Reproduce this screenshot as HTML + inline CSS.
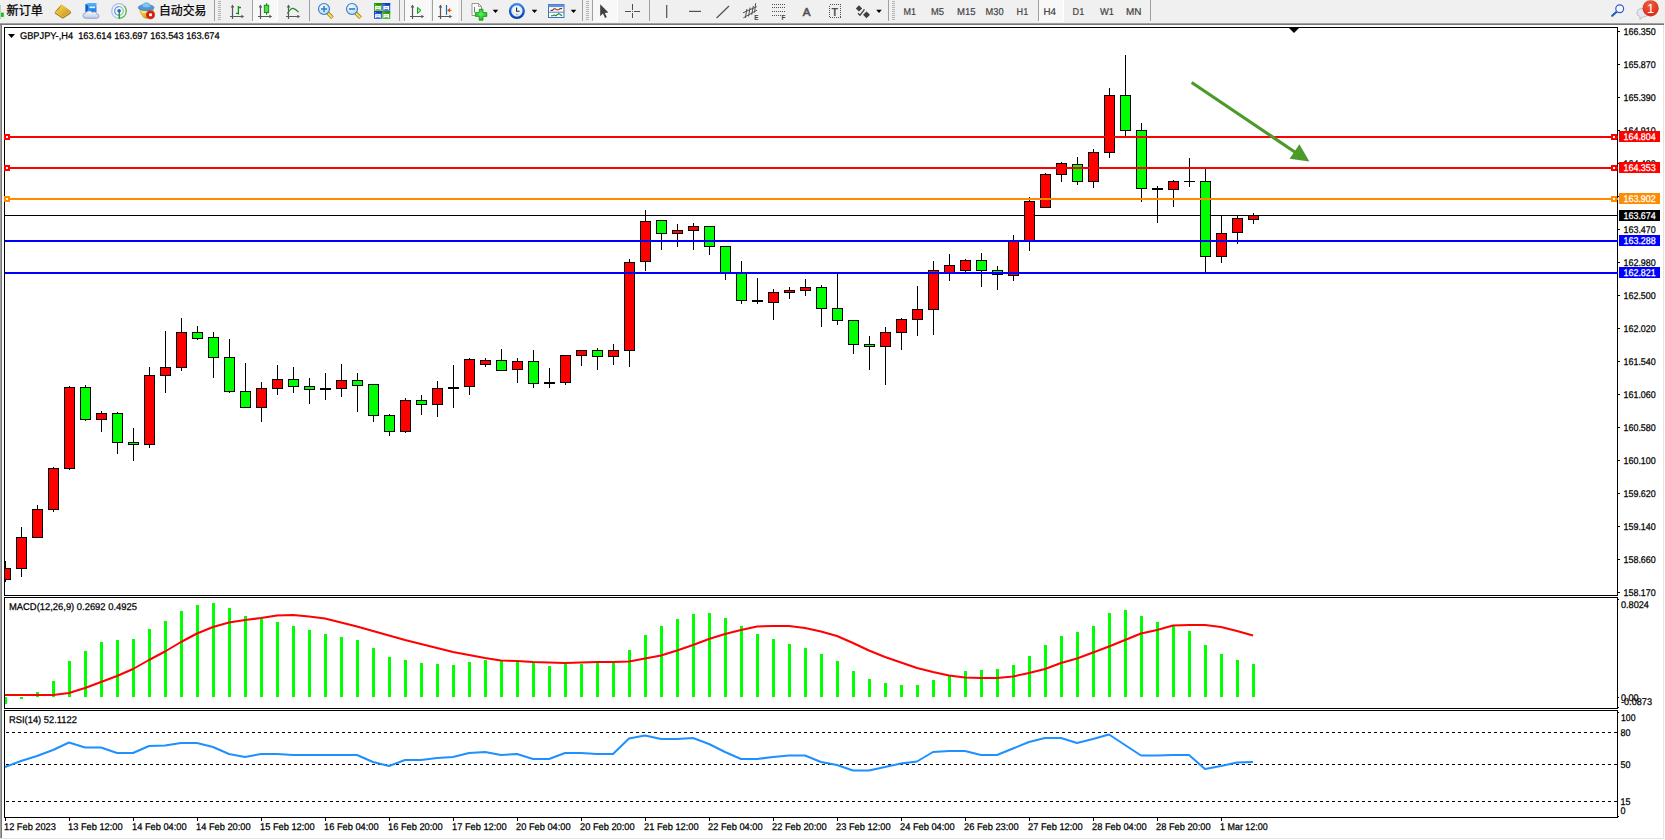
<!DOCTYPE html>
<html lang="zh-CN"><head><meta charset="utf-8"><title>GBPJPY-,H4</title>
<style>
html,body{margin:0;padding:0;background:#f0f0f0;overflow:hidden}
body{width:1665px;height:840px;font-family:"Liberation Sans", "Noto Sans CJK SC", sans-serif}
svg{display:block;position:absolute;left:0;top:0}
text{font-family:"Liberation Sans", "Noto Sans CJK SC", sans-serif;white-space:pre}
</style></head><body>
<svg width="1665" height="840" viewBox="0 0 1665 840"><rect x="0" y="0" width="1665" height="840" fill="#f0f0f0"/>
<rect x="2" y="25" width="1662" height="813" fill="#fff"/>
<rect x="0" y="23" width="1664" height="1" fill="#a0a0a0"/>
<rect x="0" y="24" width="1664" height="1" fill="#787878"/>
<rect x="0" y="25" width="1" height="813" fill="#a0a0a0"/>
<rect x="1" y="25" width="1" height="813" fill="#787878"/>
<rect x="1663" y="25" width="1" height="814" fill="#e3e3e3"/>
<rect x="0" y="838" width="1664" height="1" fill="#e3e3e3"/>
<rect x="1664" y="25" width="1" height="815" fill="#fff"/>
<rect x="0" y="839" width="1665" height="1" fill="#fff"/>
<g fill="none" stroke="#000" stroke-width="1" shape-rendering="crispEdges">
<path d="M4.5 27.5H1617.5V595.5H4.5Z"/>
<path d="M4.5 597.5H1617.5V708.5H4.5Z"/>
<path d="M4.5 710.5H1617.5V817.5H4.5Z"/>
</g>
<defs><clipPath id="cm"><rect x="5" y="28" width="1612" height="567"/></clipPath></defs>
<g clip-path="url(#cm)" shape-rendering="crispEdges">
<rect x="5" y="215" width="1612" height="1" fill="#000"/>
<rect x="5" y="561" width="1" height="21" fill="#000"/>
<rect x="0" y="568" width="11" height="12" fill="#000"/>
<rect x="1" y="569" width="9" height="10" fill="#ff0000"/>
<rect x="21" y="527" width="1" height="50" fill="#000"/>
<rect x="16" y="537" width="11" height="32" fill="#000"/>
<rect x="17" y="538" width="9" height="30" fill="#ff0000"/>
<rect x="37" y="505" width="1" height="32" fill="#000"/>
<rect x="32" y="509" width="11" height="29" fill="#000"/>
<rect x="33" y="510" width="9" height="27" fill="#ff0000"/>
<rect x="53" y="467" width="1" height="45" fill="#000"/>
<rect x="48" y="468" width="11" height="42" fill="#000"/>
<rect x="49" y="469" width="9" height="40" fill="#ff0000"/>
<rect x="69" y="386" width="1" height="84" fill="#000"/>
<rect x="64" y="387" width="11" height="82" fill="#000"/>
<rect x="65" y="388" width="9" height="80" fill="#ff0000"/>
<rect x="85" y="385" width="1" height="36" fill="#000"/>
<rect x="80" y="387" width="11" height="33" fill="#000"/>
<rect x="81" y="388" width="9" height="31" fill="#00ff00"/>
<rect x="101" y="411" width="1" height="21" fill="#000"/>
<rect x="96" y="413" width="11" height="7" fill="#000"/>
<rect x="97" y="414" width="9" height="5" fill="#ff0000"/>
<rect x="117" y="412" width="1" height="42" fill="#000"/>
<rect x="112" y="413" width="11" height="30" fill="#000"/>
<rect x="113" y="414" width="9" height="28" fill="#00ff00"/>
<rect x="133" y="428" width="1" height="33" fill="#000"/>
<rect x="128" y="442" width="11" height="3" fill="#000"/>
<rect x="129" y="443" width="9" height="1" fill="#00ff00"/>
<rect x="149" y="367" width="1" height="81" fill="#000"/>
<rect x="144" y="375" width="11" height="70" fill="#000"/>
<rect x="145" y="376" width="9" height="68" fill="#ff0000"/>
<rect x="165" y="331" width="1" height="62" fill="#000"/>
<rect x="160" y="367" width="11" height="9" fill="#000"/>
<rect x="161" y="368" width="9" height="7" fill="#ff0000"/>
<rect x="181" y="318" width="1" height="53" fill="#000"/>
<rect x="176" y="332" width="11" height="36" fill="#000"/>
<rect x="177" y="333" width="9" height="34" fill="#ff0000"/>
<rect x="197" y="326" width="1" height="14" fill="#000"/>
<rect x="192" y="332" width="11" height="7" fill="#000"/>
<rect x="193" y="333" width="9" height="5" fill="#00ff00"/>
<rect x="213" y="332" width="1" height="46" fill="#000"/>
<rect x="208" y="337" width="11" height="21" fill="#000"/>
<rect x="209" y="338" width="9" height="19" fill="#00ff00"/>
<rect x="229" y="339" width="1" height="54" fill="#000"/>
<rect x="224" y="357" width="11" height="35" fill="#000"/>
<rect x="225" y="358" width="9" height="33" fill="#00ff00"/>
<rect x="245" y="363" width="1" height="44" fill="#000"/>
<rect x="240" y="391" width="11" height="17" fill="#000"/>
<rect x="241" y="392" width="9" height="15" fill="#00ff00"/>
<rect x="261" y="382" width="1" height="40" fill="#000"/>
<rect x="256" y="388" width="11" height="20" fill="#000"/>
<rect x="257" y="389" width="9" height="18" fill="#ff0000"/>
<rect x="277" y="365" width="1" height="30" fill="#000"/>
<rect x="272" y="379" width="11" height="10" fill="#000"/>
<rect x="273" y="380" width="9" height="8" fill="#ff0000"/>
<rect x="293" y="367" width="1" height="26" fill="#000"/>
<rect x="288" y="379" width="11" height="8" fill="#000"/>
<rect x="289" y="380" width="9" height="6" fill="#00ff00"/>
<rect x="309" y="378" width="1" height="26" fill="#000"/>
<rect x="304" y="386" width="11" height="4" fill="#000"/>
<rect x="305" y="387" width="9" height="2" fill="#00ff00"/>
<rect x="325" y="373" width="1" height="27" fill="#000"/>
<rect x="320" y="388" width="11" height="2" fill="#000"/>
<rect x="341" y="364" width="1" height="33" fill="#000"/>
<rect x="336" y="380" width="11" height="9" fill="#000"/>
<rect x="337" y="381" width="9" height="7" fill="#ff0000"/>
<rect x="357" y="373" width="1" height="39" fill="#000"/>
<rect x="352" y="380" width="11" height="6" fill="#000"/>
<rect x="353" y="381" width="9" height="4" fill="#00ff00"/>
<rect x="373" y="384" width="1" height="38" fill="#000"/>
<rect x="368" y="384" width="11" height="32" fill="#000"/>
<rect x="369" y="385" width="9" height="30" fill="#00ff00"/>
<rect x="389" y="414" width="1" height="22" fill="#000"/>
<rect x="384" y="415" width="11" height="17" fill="#000"/>
<rect x="385" y="416" width="9" height="15" fill="#00ff00"/>
<rect x="405" y="398" width="1" height="35" fill="#000"/>
<rect x="400" y="400" width="11" height="32" fill="#000"/>
<rect x="401" y="401" width="9" height="30" fill="#ff0000"/>
<rect x="421" y="395" width="1" height="20" fill="#000"/>
<rect x="416" y="400" width="11" height="5" fill="#000"/>
<rect x="417" y="401" width="9" height="3" fill="#00ff00"/>
<rect x="437" y="381" width="1" height="36" fill="#000"/>
<rect x="432" y="388" width="11" height="17" fill="#000"/>
<rect x="433" y="389" width="9" height="15" fill="#ff0000"/>
<rect x="453" y="365" width="1" height="43" fill="#000"/>
<rect x="448" y="387" width="11" height="2" fill="#000"/>
<rect x="469" y="358" width="1" height="37" fill="#000"/>
<rect x="464" y="359" width="11" height="28" fill="#000"/>
<rect x="465" y="360" width="9" height="26" fill="#ff0000"/>
<rect x="485" y="358" width="1" height="9" fill="#000"/>
<rect x="480" y="360" width="11" height="5" fill="#000"/>
<rect x="481" y="361" width="9" height="3" fill="#ff0000"/>
<rect x="501" y="349" width="1" height="21" fill="#000"/>
<rect x="496" y="360" width="11" height="11" fill="#000"/>
<rect x="497" y="361" width="9" height="9" fill="#00ff00"/>
<rect x="517" y="358" width="1" height="25" fill="#000"/>
<rect x="512" y="361" width="11" height="9" fill="#000"/>
<rect x="513" y="362" width="9" height="7" fill="#ff0000"/>
<rect x="533" y="350" width="1" height="38" fill="#000"/>
<rect x="528" y="361" width="11" height="23" fill="#000"/>
<rect x="529" y="362" width="9" height="21" fill="#00ff00"/>
<rect x="549" y="368" width="1" height="20" fill="#000"/>
<rect x="544" y="382" width="11" height="2" fill="#000"/>
<rect x="565" y="355" width="1" height="30" fill="#000"/>
<rect x="560" y="355" width="11" height="28" fill="#000"/>
<rect x="561" y="356" width="9" height="26" fill="#ff0000"/>
<rect x="581" y="350" width="1" height="16" fill="#000"/>
<rect x="576" y="350" width="11" height="6" fill="#000"/>
<rect x="577" y="351" width="9" height="4" fill="#ff0000"/>
<rect x="597" y="348" width="1" height="22" fill="#000"/>
<rect x="592" y="350" width="11" height="7" fill="#000"/>
<rect x="593" y="351" width="9" height="5" fill="#00ff00"/>
<rect x="613" y="344" width="1" height="21" fill="#000"/>
<rect x="608" y="350" width="11" height="7" fill="#000"/>
<rect x="609" y="351" width="9" height="5" fill="#ff0000"/>
<rect x="629" y="259" width="1" height="108" fill="#000"/>
<rect x="624" y="262" width="11" height="89" fill="#000"/>
<rect x="625" y="263" width="9" height="87" fill="#ff0000"/>
<rect x="645" y="210" width="1" height="61" fill="#000"/>
<rect x="640" y="221" width="11" height="41" fill="#000"/>
<rect x="641" y="222" width="9" height="39" fill="#ff0000"/>
<rect x="661" y="220" width="1" height="30" fill="#000"/>
<rect x="656" y="220" width="11" height="14" fill="#000"/>
<rect x="657" y="221" width="9" height="12" fill="#00ff00"/>
<rect x="677" y="224" width="1" height="23" fill="#000"/>
<rect x="672" y="230" width="11" height="4" fill="#000"/>
<rect x="673" y="231" width="9" height="2" fill="#ff0000"/>
<rect x="693" y="223" width="1" height="27" fill="#000"/>
<rect x="688" y="226" width="11" height="5" fill="#000"/>
<rect x="689" y="227" width="9" height="3" fill="#ff0000"/>
<rect x="709" y="226" width="1" height="29" fill="#000"/>
<rect x="704" y="226" width="11" height="21" fill="#000"/>
<rect x="705" y="227" width="9" height="19" fill="#00ff00"/>
<rect x="725" y="246" width="1" height="34" fill="#000"/>
<rect x="720" y="246" width="11" height="27" fill="#000"/>
<rect x="721" y="247" width="9" height="25" fill="#00ff00"/>
<rect x="741" y="261" width="1" height="43" fill="#000"/>
<rect x="736" y="273" width="11" height="28" fill="#000"/>
<rect x="737" y="274" width="9" height="26" fill="#00ff00"/>
<rect x="757" y="278" width="1" height="26" fill="#000"/>
<rect x="752" y="300" width="11" height="2" fill="#000"/>
<rect x="773" y="289" width="1" height="31" fill="#000"/>
<rect x="768" y="292" width="11" height="11" fill="#000"/>
<rect x="769" y="293" width="9" height="9" fill="#ff0000"/>
<rect x="789" y="287" width="1" height="12" fill="#000"/>
<rect x="784" y="290" width="11" height="3" fill="#000"/>
<rect x="785" y="291" width="9" height="1" fill="#ff0000"/>
<rect x="805" y="279" width="1" height="17" fill="#000"/>
<rect x="800" y="287" width="11" height="4" fill="#000"/>
<rect x="801" y="288" width="9" height="2" fill="#ff0000"/>
<rect x="821" y="285" width="1" height="42" fill="#000"/>
<rect x="816" y="287" width="11" height="22" fill="#000"/>
<rect x="817" y="288" width="9" height="20" fill="#00ff00"/>
<rect x="837" y="274" width="1" height="51" fill="#000"/>
<rect x="832" y="308" width="11" height="13" fill="#000"/>
<rect x="833" y="309" width="9" height="11" fill="#00ff00"/>
<rect x="853" y="320" width="1" height="34" fill="#000"/>
<rect x="848" y="320" width="11" height="25" fill="#000"/>
<rect x="849" y="321" width="9" height="23" fill="#00ff00"/>
<rect x="869" y="336" width="1" height="34" fill="#000"/>
<rect x="864" y="344" width="11" height="3" fill="#000"/>
<rect x="865" y="345" width="9" height="1" fill="#00ff00"/>
<rect x="885" y="327" width="1" height="58" fill="#000"/>
<rect x="880" y="332" width="11" height="15" fill="#000"/>
<rect x="881" y="333" width="9" height="13" fill="#ff0000"/>
<rect x="901" y="318" width="1" height="32" fill="#000"/>
<rect x="896" y="319" width="11" height="14" fill="#000"/>
<rect x="897" y="320" width="9" height="12" fill="#ff0000"/>
<rect x="917" y="286" width="1" height="50" fill="#000"/>
<rect x="912" y="309" width="11" height="11" fill="#000"/>
<rect x="913" y="310" width="9" height="9" fill="#ff0000"/>
<rect x="933" y="261" width="1" height="74" fill="#000"/>
<rect x="928" y="270" width="11" height="40" fill="#000"/>
<rect x="929" y="271" width="9" height="38" fill="#ff0000"/>
<rect x="949" y="254" width="1" height="27" fill="#000"/>
<rect x="944" y="265" width="11" height="8" fill="#000"/>
<rect x="945" y="266" width="9" height="6" fill="#ff0000"/>
<rect x="965" y="259" width="1" height="14" fill="#000"/>
<rect x="960" y="260" width="11" height="11" fill="#000"/>
<rect x="961" y="261" width="9" height="9" fill="#ff0000"/>
<rect x="981" y="253" width="1" height="34" fill="#000"/>
<rect x="976" y="260" width="11" height="11" fill="#000"/>
<rect x="977" y="261" width="9" height="9" fill="#00ff00"/>
<rect x="997" y="266" width="1" height="24" fill="#000"/>
<rect x="992" y="270" width="11" height="5" fill="#000"/>
<rect x="993" y="271" width="9" height="3" fill="#00ff00"/>
<rect x="1013" y="235" width="1" height="46" fill="#000"/>
<rect x="1008" y="241" width="11" height="35" fill="#000"/>
<rect x="1009" y="242" width="9" height="33" fill="#ff0000"/>
<rect x="1029" y="197" width="1" height="54" fill="#000"/>
<rect x="1024" y="201" width="11" height="41" fill="#000"/>
<rect x="1025" y="202" width="9" height="39" fill="#ff0000"/>
<rect x="1045" y="173" width="1" height="35" fill="#000"/>
<rect x="1040" y="174" width="11" height="34" fill="#000"/>
<rect x="1041" y="175" width="9" height="32" fill="#ff0000"/>
<rect x="1061" y="162" width="1" height="20" fill="#000"/>
<rect x="1056" y="163" width="11" height="12" fill="#000"/>
<rect x="1057" y="164" width="9" height="10" fill="#ff0000"/>
<rect x="1077" y="157" width="1" height="28" fill="#000"/>
<rect x="1072" y="164" width="11" height="18" fill="#000"/>
<rect x="1073" y="165" width="9" height="16" fill="#00ff00"/>
<rect x="1093" y="149" width="1" height="39" fill="#000"/>
<rect x="1088" y="152" width="11" height="30" fill="#000"/>
<rect x="1089" y="153" width="9" height="28" fill="#ff0000"/>
<rect x="1109" y="88" width="1" height="70" fill="#000"/>
<rect x="1104" y="95" width="11" height="58" fill="#000"/>
<rect x="1105" y="96" width="9" height="56" fill="#ff0000"/>
<rect x="1125" y="55" width="1" height="81" fill="#000"/>
<rect x="1120" y="95" width="11" height="36" fill="#000"/>
<rect x="1121" y="96" width="9" height="34" fill="#00ff00"/>
<rect x="1141" y="123" width="1" height="79" fill="#000"/>
<rect x="1136" y="130" width="11" height="59" fill="#000"/>
<rect x="1137" y="131" width="9" height="57" fill="#00ff00"/>
<rect x="1157" y="186" width="1" height="37" fill="#000"/>
<rect x="1152" y="188" width="11" height="2" fill="#000"/>
<rect x="1173" y="180" width="1" height="27" fill="#000"/>
<rect x="1168" y="181" width="11" height="9" fill="#000"/>
<rect x="1169" y="182" width="9" height="7" fill="#ff0000"/>
<rect x="1189" y="158" width="1" height="29" fill="#000"/>
<rect x="1184" y="181" width="11" height="1" fill="#000"/>
<rect x="1205" y="169" width="1" height="103" fill="#000"/>
<rect x="1200" y="181" width="11" height="76" fill="#000"/>
<rect x="1201" y="182" width="9" height="74" fill="#00ff00"/>
<rect x="1221" y="216" width="1" height="47" fill="#000"/>
<rect x="1216" y="233" width="11" height="24" fill="#000"/>
<rect x="1217" y="234" width="9" height="22" fill="#ff0000"/>
<rect x="1237" y="216" width="1" height="28" fill="#000"/>
<rect x="1232" y="218" width="11" height="15" fill="#000"/>
<rect x="1233" y="219" width="9" height="13" fill="#ff0000"/>
<rect x="1253" y="213" width="1" height="11" fill="#000"/>
<rect x="1248" y="215" width="11" height="5" fill="#000"/>
<rect x="1249" y="216" width="9" height="3" fill="#ff0000"/>
</g>
<g shape-rendering="crispEdges">
<rect x="5" y="136" width="1613" height="2" fill="#ff0000"/>
<rect x="4" y="134" width="6" height="6" fill="#ff0000"/>
<rect x="6" y="136" width="2" height="2" fill="#fff"/>
<rect x="1611" y="134" width="6" height="6" fill="#ff0000"/>
<rect x="1613" y="136" width="2" height="2" fill="#fff"/>
<rect x="5" y="167" width="1613" height="2" fill="#ff0000"/>
<rect x="4" y="165" width="6" height="6" fill="#ff0000"/>
<rect x="6" y="167" width="2" height="2" fill="#fff"/>
<rect x="1611" y="165" width="6" height="6" fill="#ff0000"/>
<rect x="1613" y="167" width="2" height="2" fill="#fff"/>
<rect x="5" y="198" width="1613" height="2" fill="#ff8c00"/>
<rect x="4" y="196" width="6" height="6" fill="#ff8c00"/>
<rect x="6" y="198" width="2" height="2" fill="#fff"/>
<rect x="1611" y="196" width="6" height="6" fill="#ff8c00"/>
<rect x="1613" y="198" width="2" height="2" fill="#fff"/>
<rect x="5" y="240" width="1613" height="2" fill="#0000ff"/>
<rect x="5" y="272" width="1613" height="2" fill="#0000ff"/>
</g>
<path d="M1191.7 82.5L1295.5 152.5" stroke="#4c9a2a" stroke-width="3.2" fill="none"/>
<path d="M1299.4 144.2L1309.4 161.5L1289.6 158.8Z" fill="#4c9a2a"/>
<path d="M1289 28H1299L1294 33Z" fill="#000"/>
<g font-family='"Liberation Sans", "Noto Sans CJK SC", sans-serif' font-size="9.8">
<g shape-rendering="crispEdges">
<rect x="1618" y="31" width="2" height="1" fill="#000"/>
<rect x="1618" y="64" width="2" height="1" fill="#000"/>
<rect x="1618" y="97" width="2" height="1" fill="#000"/>
<rect x="1618" y="130" width="2" height="1" fill="#000"/>
<rect x="1618" y="163" width="2" height="1" fill="#000"/>
<rect x="1618" y="196" width="2" height="1" fill="#000"/>
<rect x="1618" y="229" width="2" height="1" fill="#000"/>
<rect x="1618" y="262" width="2" height="1" fill="#000"/>
<rect x="1618" y="295" width="2" height="1" fill="#000"/>
<rect x="1618" y="328" width="2" height="1" fill="#000"/>
<rect x="1618" y="361" width="2" height="1" fill="#000"/>
<rect x="1618" y="394" width="2" height="1" fill="#000"/>
<rect x="1618" y="427" width="2" height="1" fill="#000"/>
<rect x="1618" y="460" width="2" height="1" fill="#000"/>
<rect x="1618" y="493" width="2" height="1" fill="#000"/>
<rect x="1618" y="526" width="2" height="1" fill="#000"/>
<rect x="1618" y="559" width="2" height="1" fill="#000"/>
<rect x="1618" y="592" width="2" height="1" fill="#000"/>
</g>
<text transform="translate(1623.5 35) rotate(0.03) scale(0.9118 1)" font-size="9.8" fill="#000" stroke="#000" stroke-width="0.25" >166.350</text>
<text transform="translate(1623.5 68) rotate(0.03) scale(0.9118 1)" font-size="9.8" fill="#000" stroke="#000" stroke-width="0.25" >165.870</text>
<text transform="translate(1623.5 101) rotate(0.03) scale(0.9118 1)" font-size="9.8" fill="#000" stroke="#000" stroke-width="0.25" >165.390</text>
<text transform="translate(1623.5 134) rotate(0.03) scale(0.9118 1)" font-size="9.8" fill="#000" stroke="#000" stroke-width="0.25" >164.910</text>
<text transform="translate(1623.5 167) rotate(0.03) scale(0.9118 1)" font-size="9.8" fill="#000" stroke="#000" stroke-width="0.25" >164.430</text>
<text transform="translate(1623.5 200) rotate(0.03) scale(0.9118 1)" font-size="9.8" fill="#000" stroke="#000" stroke-width="0.25" >163.950</text>
<text transform="translate(1623.5 233) rotate(0.03) scale(0.9118 1)" font-size="9.8" fill="#000" stroke="#000" stroke-width="0.25" >163.470</text>
<text transform="translate(1623.5 266) rotate(0.03) scale(0.9118 1)" font-size="9.8" fill="#000" stroke="#000" stroke-width="0.25" >162.980</text>
<text transform="translate(1623.5 299) rotate(0.03) scale(0.9118 1)" font-size="9.8" fill="#000" stroke="#000" stroke-width="0.25" >162.500</text>
<text transform="translate(1623.5 332) rotate(0.03) scale(0.9118 1)" font-size="9.8" fill="#000" stroke="#000" stroke-width="0.25" >162.020</text>
<text transform="translate(1623.5 365) rotate(0.03) scale(0.9118 1)" font-size="9.8" fill="#000" stroke="#000" stroke-width="0.25" >161.540</text>
<text transform="translate(1623.5 398) rotate(0.03) scale(0.9118 1)" font-size="9.8" fill="#000" stroke="#000" stroke-width="0.25" >161.060</text>
<text transform="translate(1623.5 431) rotate(0.03) scale(0.9118 1)" font-size="9.8" fill="#000" stroke="#000" stroke-width="0.25" >160.580</text>
<text transform="translate(1623.5 464) rotate(0.03) scale(0.9118 1)" font-size="9.8" fill="#000" stroke="#000" stroke-width="0.25" >160.100</text>
<text transform="translate(1623.5 497) rotate(0.03) scale(0.9118 1)" font-size="9.8" fill="#000" stroke="#000" stroke-width="0.25" >159.620</text>
<text transform="translate(1623.5 530) rotate(0.03) scale(0.9118 1)" font-size="9.8" fill="#000" stroke="#000" stroke-width="0.25" >159.140</text>
<text transform="translate(1623.5 563) rotate(0.03) scale(0.9118 1)" font-size="9.8" fill="#000" stroke="#000" stroke-width="0.25" >158.660</text>
<text transform="translate(1623.5 596) rotate(0.03) scale(0.9118 1)" font-size="9.8" fill="#000" stroke="#000" stroke-width="0.25" >158.170</text>
<g shape-rendering="crispEdges">
<rect x="1619" y="131" width="41" height="11" fill="#ff0000"/>
<rect x="1619" y="162" width="41" height="11" fill="#ff0000"/>
<rect x="1619" y="193" width="41" height="11" fill="#ff8c00"/>
<rect x="1619" y="210" width="41" height="11" fill="#000000"/>
<rect x="1619" y="235" width="41" height="11" fill="#0000ff"/>
<rect x="1619" y="267" width="41" height="11" fill="#0000ff"/>
</g>
<text transform="translate(1623.5 140) rotate(0.03) scale(0.9118 1)" font-size="9.8" fill="#fff" stroke="#fff" stroke-width="0.25" >164.804</text>
<text transform="translate(1623.5 171) rotate(0.03) scale(0.9118 1)" font-size="9.8" fill="#fff" stroke="#fff" stroke-width="0.25" >164.353</text>
<text transform="translate(1623.5 202) rotate(0.03) scale(0.9118 1)" font-size="9.8" fill="#fff" stroke="#fff" stroke-width="0.25" >163.902</text>
<text transform="translate(1623.5 219) rotate(0.03) scale(0.9118 1)" font-size="9.8" fill="#fff" stroke="#fff" stroke-width="0.25" >163.674</text>
<text transform="translate(1623.5 244) rotate(0.03) scale(0.9118 1)" font-size="9.8" fill="#fff" stroke="#fff" stroke-width="0.25" >163.288</text>
<text transform="translate(1623.5 276) rotate(0.03) scale(0.9118 1)" font-size="9.8" fill="#fff" stroke="#fff" stroke-width="0.25" >162.821</text>
<path d="M8 34H15L11.5 38Z" fill="#000"/>
<text transform="translate(20 39) rotate(0.03) scale(0.9452 1)" font-size="9.8" fill="#000" stroke="#000" stroke-width="0.25" xml:space="preserve">GBPJPY-,H4&#160; 163.614 163.697 163.543 163.674</text>
<text transform="translate(9 610) rotate(0.03) scale(0.9590 1)" font-size="9.8" fill="#000" stroke="#000" stroke-width="0.25" >MACD(12,26,9) 0.2692 0.4925</text>
<text transform="translate(9 723) rotate(0.03) scale(0.9552 1)" font-size="9.8" fill="#000" stroke="#000" stroke-width="0.25" >RSI(14) 52.1122</text>
<g shape-rendering="crispEdges" fill="#00ff00">
<rect x="5" y="697" width="2" height="7"/>
<rect x="20" y="697" width="3" height="2"/>
<rect x="36" y="692" width="3" height="5"/>
<rect x="52" y="681" width="3" height="16"/>
<rect x="68" y="661" width="3" height="36"/>
<rect x="84" y="651" width="3" height="46"/>
<rect x="100" y="642" width="3" height="55"/>
<rect x="116" y="640" width="3" height="57"/>
<rect x="132" y="639" width="3" height="58"/>
<rect x="148" y="629" width="3" height="68"/>
<rect x="164" y="621" width="3" height="76"/>
<rect x="180" y="611" width="3" height="86"/>
<rect x="196" y="605" width="3" height="92"/>
<rect x="212" y="603" width="3" height="94"/>
<rect x="228" y="608" width="3" height="89"/>
<rect x="244" y="616" width="3" height="81"/>
<rect x="260" y="619" width="3" height="78"/>
<rect x="276" y="622" width="3" height="75"/>
<rect x="292" y="626" width="3" height="71"/>
<rect x="308" y="630" width="3" height="67"/>
<rect x="324" y="634" width="3" height="63"/>
<rect x="340" y="637" width="3" height="60"/>
<rect x="356" y="640" width="3" height="57"/>
<rect x="372" y="648" width="3" height="49"/>
<rect x="388" y="657" width="3" height="40"/>
<rect x="404" y="660" width="3" height="37"/>
<rect x="420" y="663" width="3" height="34"/>
<rect x="436" y="664" width="3" height="33"/>
<rect x="452" y="665" width="3" height="32"/>
<rect x="468" y="662" width="3" height="35"/>
<rect x="484" y="660" width="3" height="37"/>
<rect x="500" y="661" width="3" height="36"/>
<rect x="516" y="661" width="3" height="36"/>
<rect x="532" y="663" width="3" height="34"/>
<rect x="548" y="666" width="3" height="31"/>
<rect x="564" y="664" width="3" height="33"/>
<rect x="580" y="664" width="3" height="33"/>
<rect x="596" y="663" width="3" height="34"/>
<rect x="612" y="663" width="3" height="34"/>
<rect x="628" y="650" width="3" height="47"/>
<rect x="644" y="635" width="3" height="62"/>
<rect x="660" y="626" width="3" height="71"/>
<rect x="676" y="619" width="3" height="78"/>
<rect x="692" y="614" width="3" height="83"/>
<rect x="708" y="613" width="3" height="84"/>
<rect x="724" y="618" width="3" height="79"/>
<rect x="740" y="626" width="3" height="71"/>
<rect x="756" y="634" width="3" height="63"/>
<rect x="772" y="639" width="3" height="58"/>
<rect x="788" y="644" width="3" height="53"/>
<rect x="804" y="648" width="3" height="49"/>
<rect x="820" y="654" width="3" height="43"/>
<rect x="836" y="661" width="3" height="36"/>
<rect x="852" y="671" width="3" height="26"/>
<rect x="868" y="679" width="3" height="18"/>
<rect x="884" y="683" width="3" height="14"/>
<rect x="900" y="685" width="3" height="12"/>
<rect x="916" y="685" width="3" height="12"/>
<rect x="932" y="680" width="3" height="17"/>
<rect x="948" y="676" width="3" height="21"/>
<rect x="964" y="671" width="3" height="26"/>
<rect x="980" y="670" width="3" height="27"/>
<rect x="996" y="669" width="3" height="28"/>
<rect x="1012" y="665" width="3" height="32"/>
<rect x="1028" y="656" width="3" height="41"/>
<rect x="1044" y="645" width="3" height="52"/>
<rect x="1060" y="636" width="3" height="61"/>
<rect x="1076" y="632" width="3" height="65"/>
<rect x="1092" y="626" width="3" height="71"/>
<rect x="1108" y="613" width="3" height="84"/>
<rect x="1124" y="610" width="3" height="87"/>
<rect x="1140" y="616" width="3" height="81"/>
<rect x="1156" y="622" width="3" height="75"/>
<rect x="1172" y="626" width="3" height="71"/>
<rect x="1188" y="631" width="3" height="66"/>
<rect x="1204" y="645" width="3" height="52"/>
<rect x="1220" y="654" width="3" height="43"/>
<rect x="1236" y="660" width="3" height="37"/>
<rect x="1252" y="664" width="3" height="33"/>
</g>
<polyline points="5,695 21,695 37,695 53,695 69,693 85,688 101,682 117,676 133,669 149,660 165,651.5 181,642 197,633.5 213,627 229,622.5 245,620 261,618 277,615.5 293,615 309,616.5 325,618.5 341,622.5 357,626.5 373,631 389,635.5 405,640 421,644 437,648 453,652 469,655 485,658 501,660.5 517,661 533,662 549,662.5 565,663 581,662.5 597,662 613,662 629,661.5 645,658.5 661,655.5 677,650.5 693,645 709,639 725,634 741,630 757,626.5 773,626 789,626 805,628 821,631.5 837,636 853,643 869,650.5 885,657 901,662.5 917,668 933,672 949,675.5 965,677.5 981,678 997,678 1013,676.5 1029,673 1045,669 1061,663 1077,658.5 1093,652.5 1109,646.5 1125,640 1141,633.5 1157,630 1173,625.5 1189,625 1205,625 1221,627 1237,631 1253,635.5" fill="none" stroke="#ff0000" stroke-width="2" stroke-linejoin="round"/>
<g shape-rendering="crispEdges" fill="#000">
<rect x="1618" y="599" width="1" height="1"/>
<rect x="1618" y="697" width="1" height="1"/>
<rect x="1618" y="707" width="1" height="1"/>
</g>
<text transform="translate(1621 608) rotate(0.03) scale(0.9341 1)" font-size="9.8" fill="#000" stroke="#000" stroke-width="0.25" >0.8024</text>
<text transform="translate(1621 701) rotate(0.03) scale(0.9175 1)" font-size="9.8" fill="#000" stroke="#000" stroke-width="0.25" >0.00</text>
<text transform="translate(1621 705) rotate(0.03) scale(0.9326 1)" font-size="9.8" fill="#000" stroke="#000" stroke-width="0.25" >-0.0873</text>
<g stroke="#000" stroke-width="1" stroke-dasharray="3 3" shape-rendering="crispEdges">
<path d="M6 732.5H1617"/>
<path d="M6 764.5H1617"/>
<path d="M6 801.5H1617"/>
</g>
<polyline points="5,767 21,761 37,756 53,750 69,742.5 85,747.5 101,747.5 117,753 133,753 149,746 165,745.5 181,743 197,743 213,747 229,754 245,757 261,754 277,754 293,755 309,755 325,755 341,755 357,755 373,762 389,766 405,760 421,760 437,758 453,757 469,753 485,752 501,755 517,754 533,759 549,759 565,753 581,753 597,754 613,754 629,738.5 645,735.5 661,739 677,739 693,738 709,744 725,752 741,759 757,759 773,757 789,755.5 805,755.5 821,762 837,765 853,770.5 869,770.5 885,767 901,763.5 917,761.5 933,752 949,751 965,751 981,755 997,755 1013,748.5 1029,742 1045,738 1061,738 1077,743 1093,739 1109,734.5 1125,745 1141,755.5 1157,755.5 1173,755 1189,755 1205,769 1221,766 1237,762.5 1253,762" fill="none" stroke="#1e90ff" stroke-width="2" stroke-linejoin="round"/>
<g shape-rendering="crispEdges" fill="#000">
<rect x="1618" y="712" width="1" height="1"/>
<rect x="1618" y="816" width="1" height="1"/>
</g>
<text transform="translate(1621 721) rotate(0.03) scale(0.8868 1)" font-size="9.8" fill="#000" stroke="#000" stroke-width="0.25" >100</text>
<text transform="translate(1620.5 736) rotate(0.03) scale(0.9173 1)" font-size="9.8" fill="#000" stroke="#000" stroke-width="0.25" >80</text>
<text transform="translate(1620.5 768) rotate(0.03) scale(0.9173 1)" font-size="9.8" fill="#000" stroke="#000" stroke-width="0.25" >50</text>
<text transform="translate(1620.5 805) rotate(0.03) scale(0.9173 1)" font-size="9.8" fill="#000" stroke="#000" stroke-width="0.25" >15</text>
<text transform="translate(1620.5 814) rotate(0.03) scale(0.9173 1)" font-size="9.8" fill="#000" stroke="#000" stroke-width="0.25" >0</text>
<g shape-rendering="crispEdges" fill="#000">
<rect x="5" y="818" width="1" height="3"/>
<rect x="69" y="818" width="1" height="3"/>
<rect x="133" y="818" width="1" height="3"/>
<rect x="197" y="818" width="1" height="3"/>
<rect x="261" y="818" width="1" height="3"/>
<rect x="325" y="818" width="1" height="3"/>
<rect x="389" y="818" width="1" height="3"/>
<rect x="453" y="818" width="1" height="3"/>
<rect x="517" y="818" width="1" height="3"/>
<rect x="581" y="818" width="1" height="3"/>
<rect x="645" y="818" width="1" height="3"/>
<rect x="709" y="818" width="1" height="3"/>
<rect x="773" y="818" width="1" height="3"/>
<rect x="837" y="818" width="1" height="3"/>
<rect x="901" y="818" width="1" height="3"/>
<rect x="965" y="818" width="1" height="3"/>
<rect x="1029" y="818" width="1" height="3"/>
<rect x="1093" y="818" width="1" height="3"/>
<rect x="1157" y="818" width="1" height="3"/>
<rect x="1221" y="818" width="1" height="3"/>
</g>
<text transform="translate(4 830) rotate(0.03) scale(0.9448 1)" font-size="9.8" fill="#000" stroke="#000" stroke-width="0.25" >12 Feb 2023</text>
<text transform="translate(68 830) rotate(0.03) scale(0.9471 1)" font-size="9.8" fill="#000" stroke="#000" stroke-width="0.25" >13 Feb 12:00</text>
<text transform="translate(132 830) rotate(0.03) scale(0.9471 1)" font-size="9.8" fill="#000" stroke="#000" stroke-width="0.25" >14 Feb 04:00</text>
<text transform="translate(196 830) rotate(0.03) scale(0.9471 1)" font-size="9.8" fill="#000" stroke="#000" stroke-width="0.25" >14 Feb 20:00</text>
<text transform="translate(260 830) rotate(0.03) scale(0.9471 1)" font-size="9.8" fill="#000" stroke="#000" stroke-width="0.25" >15 Feb 12:00</text>
<text transform="translate(324 830) rotate(0.03) scale(0.9471 1)" font-size="9.8" fill="#000" stroke="#000" stroke-width="0.25" >16 Feb 04:00</text>
<text transform="translate(388 830) rotate(0.03) scale(0.9471 1)" font-size="9.8" fill="#000" stroke="#000" stroke-width="0.25" >16 Feb 20:00</text>
<text transform="translate(452 830) rotate(0.03) scale(0.9471 1)" font-size="9.8" fill="#000" stroke="#000" stroke-width="0.25" >17 Feb 12:00</text>
<text transform="translate(516 830) rotate(0.03) scale(0.9471 1)" font-size="9.8" fill="#000" stroke="#000" stroke-width="0.25" >20 Feb 04:00</text>
<text transform="translate(580 830) rotate(0.03) scale(0.9471 1)" font-size="9.8" fill="#000" stroke="#000" stroke-width="0.25" >20 Feb 20:00</text>
<text transform="translate(644 830) rotate(0.03) scale(0.9471 1)" font-size="9.8" fill="#000" stroke="#000" stroke-width="0.25" >21 Feb 12:00</text>
<text transform="translate(708 830) rotate(0.03) scale(0.9471 1)" font-size="9.8" fill="#000" stroke="#000" stroke-width="0.25" >22 Feb 04:00</text>
<text transform="translate(772 830) rotate(0.03) scale(0.9471 1)" font-size="9.8" fill="#000" stroke="#000" stroke-width="0.25" >22 Feb 20:00</text>
<text transform="translate(836 830) rotate(0.03) scale(0.9471 1)" font-size="9.8" fill="#000" stroke="#000" stroke-width="0.25" >23 Feb 12:00</text>
<text transform="translate(900 830) rotate(0.03) scale(0.9471 1)" font-size="9.8" fill="#000" stroke="#000" stroke-width="0.25" >24 Feb 04:00</text>
<text transform="translate(964 830) rotate(0.03) scale(0.9471 1)" font-size="9.8" fill="#000" stroke="#000" stroke-width="0.25" >26 Feb 23:00</text>
<text transform="translate(1028 830) rotate(0.03) scale(0.9471 1)" font-size="9.8" fill="#000" stroke="#000" stroke-width="0.25" >27 Feb 12:00</text>
<text transform="translate(1092 830) rotate(0.03) scale(0.9471 1)" font-size="9.8" fill="#000" stroke="#000" stroke-width="0.25" >28 Feb 04:00</text>
<text transform="translate(1156 830) rotate(0.03) scale(0.9471 1)" font-size="9.8" fill="#000" stroke="#000" stroke-width="0.25" >28 Feb 20:00</text>
<text transform="translate(1220 830) rotate(0.03) scale(0.9140 1)" font-size="9.8" fill="#000" stroke="#000" stroke-width="0.25" >1 Mar 12:00</text>
</g>
<g id="toolbar">
<defs><linearGradient id="gold" x1="0" y1="0" x2="1" y2="1"><stop offset="0" stop-color="#ffe45a"/><stop offset="1" stop-color="#c48a16"/></linearGradient><linearGradient id="sky" x1="0" y1="0" x2="0" y2="1"><stop offset="0" stop-color="#5cb4ff"/><stop offset="1" stop-color="#1878e0"/></linearGradient><linearGradient id="cloud" x1="0" y1="0" x2="0" y2="1"><stop offset="0" stop-color="#ffffff"/><stop offset="1" stop-color="#b8c8e4"/></linearGradient><radialGradient id="lens" cx="0.4" cy="0.35" r="0.7"><stop offset="0" stop-color="#ffffff"/><stop offset="1" stop-color="#a8d4f8"/></radialGradient><radialGradient id="redb" cx="0.45" cy="0.3" r="0.8"><stop offset="0" stop-color="#f06040"/><stop offset="1" stop-color="#d82010"/></radialGradient><radialGradient id="clock" cx="0.5" cy="0.4" r="0.6"><stop offset="0" stop-color="#ffffff"/><stop offset="1" stop-color="#d8e4f4"/></radialGradient><radialGradient id="gplus" cx="0.5" cy="0.45" r="0.6"><stop offset="0" stop-color="#60f060"/><stop offset="1" stop-color="#18b018"/></radialGradient><linearGradient id="ring" x1="0" y1="0" x2="0" y2="1"><stop offset="0" stop-color="#3c8cf0"/><stop offset="0.5" stop-color="#1458d0"/><stop offset="1" stop-color="#0c3c9c"/></linearGradient></defs>
<rect x="253" y="0" width="24" height="21" fill="#f8f8f8"/>
<rect x="277" y="0" width="1" height="22" fill="#ffffff"/>
<rect x="252" y="21" width="26" height="1" fill="#ffffff"/>
<rect x="405" y="0" width="24" height="21" fill="#f8f8f8"/>
<rect x="429" y="0" width="1" height="22" fill="#ffffff"/>
<rect x="404" y="21" width="26" height="1" fill="#ffffff"/>
<rect x="433" y="0" width="24" height="21" fill="#f8f8f8"/>
<rect x="457" y="0" width="1" height="22" fill="#ffffff"/>
<rect x="432" y="21" width="26" height="1" fill="#ffffff"/>
<rect x="593" y="0" width="24" height="21" fill="#f8f8f8"/>
<rect x="617" y="0" width="1" height="22" fill="#ffffff"/>
<rect x="592" y="21" width="26" height="1" fill="#ffffff"/>
<rect x="1039" y="0" width="24" height="21" fill="#f8f8f8"/>
<rect x="1063" y="0" width="1" height="22" fill="#ffffff"/>
<rect x="1038" y="21" width="26" height="1" fill="#ffffff"/>
<g shape-rendering="crispEdges">
<rect x="214" y="0" width="1" height="21" fill="#a0a0a0"/>
<rect x="252" y="0" width="1" height="21" fill="#a0a0a0"/>
<rect x="309" y="0" width="1" height="21" fill="#a0a0a0"/>
<rect x="399" y="0" width="1" height="21" fill="#a0a0a0"/>
<rect x="404" y="0" width="1" height="21" fill="#a0a0a0"/>
<rect x="432" y="0" width="1" height="21" fill="#a0a0a0"/>
<rect x="461" y="0" width="1" height="21" fill="#a0a0a0"/>
<rect x="582" y="0" width="1" height="21" fill="#a0a0a0"/>
<rect x="592" y="0" width="1" height="21" fill="#a0a0a0"/>
<rect x="649" y="0" width="1" height="21" fill="#a0a0a0"/>
<rect x="888" y="0" width="1" height="21" fill="#a0a0a0"/>
<rect x="1038" y="0" width="1" height="21" fill="#a0a0a0"/>
<rect x="1150" y="0" width="1" height="21" fill="#a0a0a0"/>
<rect x="218" y="1" width="3" height="1" fill="#b4b4b4"/>
<rect x="218" y="3" width="3" height="1" fill="#b4b4b4"/>
<rect x="218" y="5" width="3" height="1" fill="#b4b4b4"/>
<rect x="218" y="7" width="3" height="1" fill="#b4b4b4"/>
<rect x="218" y="9" width="3" height="1" fill="#b4b4b4"/>
<rect x="218" y="11" width="3" height="1" fill="#b4b4b4"/>
<rect x="218" y="13" width="3" height="1" fill="#b4b4b4"/>
<rect x="218" y="15" width="3" height="1" fill="#b4b4b4"/>
<rect x="218" y="17" width="3" height="1" fill="#b4b4b4"/>
<rect x="218" y="19" width="3" height="1" fill="#b4b4b4"/>
<rect x="586" y="1" width="3" height="1" fill="#b4b4b4"/>
<rect x="586" y="3" width="3" height="1" fill="#b4b4b4"/>
<rect x="586" y="5" width="3" height="1" fill="#b4b4b4"/>
<rect x="586" y="7" width="3" height="1" fill="#b4b4b4"/>
<rect x="586" y="9" width="3" height="1" fill="#b4b4b4"/>
<rect x="586" y="11" width="3" height="1" fill="#b4b4b4"/>
<rect x="586" y="13" width="3" height="1" fill="#b4b4b4"/>
<rect x="586" y="15" width="3" height="1" fill="#b4b4b4"/>
<rect x="586" y="17" width="3" height="1" fill="#b4b4b4"/>
<rect x="586" y="19" width="3" height="1" fill="#b4b4b4"/>
<rect x="892" y="1" width="3" height="1" fill="#b4b4b4"/>
<rect x="892" y="3" width="3" height="1" fill="#b4b4b4"/>
<rect x="892" y="5" width="3" height="1" fill="#b4b4b4"/>
<rect x="892" y="7" width="3" height="1" fill="#b4b4b4"/>
<rect x="892" y="9" width="3" height="1" fill="#b4b4b4"/>
<rect x="892" y="11" width="3" height="1" fill="#b4b4b4"/>
<rect x="892" y="13" width="3" height="1" fill="#b4b4b4"/>
<rect x="892" y="15" width="3" height="1" fill="#b4b4b4"/>
<rect x="892" y="17" width="3" height="1" fill="#b4b4b4"/>
<rect x="892" y="19" width="3" height="1" fill="#b4b4b4"/>
</g>
<rect x="0" y="12.6" width="3.8" height="4.3" fill="#12c412"/>
<rect x="0" y="5" width="1" height="14" fill="#c8c8c8"/>
<text x="6.5" y="14.5" font-size="12" fill="#000" stroke="#000" stroke-width="0.25" font-family='"Liberation Sans", "Noto Sans CJK SC", sans-serif' textLength="36.5" lengthAdjust="spacingAndGlyphs">新订单</text>
<text x="159" y="14.5" font-size="12" fill="#000" stroke="#000" stroke-width="0.25" font-family='"Liberation Sans", "Noto Sans CJK SC", sans-serif' textLength="47.5" lengthAdjust="spacingAndGlyphs">自动交易</text>
<path d="M61.3 4.4L71 11.6L70.8 13.4L62.8 18.8L54.8 13.4L54.9 12Z" fill="#a87410"/>
<path d="M61.3 4.2L70.9 11.5L62.7 17.2L54.9 12Q59.6 9.8 61.3 4.2Z" fill="url(#gold)"/>
<path d="M55.6 12.4L62.7 17.2L70.4 11.9" fill="none" stroke="#fff0a0" stroke-width="0.6" opacity="0.8"/>
<path d="M85.5 4L88.5 3H96.5V12H85.5Z" fill="url(#sky)"/>
<path d="M85.5 4L88 5.5V12H85.5Z" fill="#1060c8"/>
<rect x="89.5" y="6.5" width="5.5" height="1.6" fill="#e8f4ff"/>
<path d="M86 18.3Q83 18.3 83 15.6Q83 13.2 85.8 13Q86.6 10.8 89.2 10.8Q91.4 10.8 92.4 12.4Q93.4 11.6 94.8 11.9Q96.6 12.3 96.8 14Q99 14.2 99 16.2Q99 18.3 96.6 18.3Z" fill="url(#cloud)" stroke="#7f96c2" stroke-width="0.8"/>
<defs><clipPath id="sgL"><path clip-rule="evenodd" d="M108 0H130V22H108ZM119.3 6H130V22H119.3Z"/></clipPath><clipPath id="sgR"><path d="M119.3 6H130V22H119.3Z"/></clipPath></defs>
<circle cx="119" cy="11" r="7.9" fill="#f3f5f9"/>
<g fill="none" clip-path="url(#sgL)"><circle cx="119" cy="11" r="7.3" stroke="#a9bee6" stroke-width="1.2"/><circle cx="119" cy="11" r="4.3" stroke="#6a92e0" stroke-width="1.3"/></g>
<g fill="none" clip-path="url(#sgR)"><circle cx="119" cy="11" r="7.3" stroke="#5cb45c" stroke-width="1.4"/><circle cx="119" cy="11" r="4.3" stroke="#8ccc8c" stroke-width="1.3"/></g>
<path d="M119.3 11V18.9" stroke="#28a028" stroke-width="1.5"/>
<circle cx="119.1" cy="10.8" r="1.8" fill="#2860d8"/>
<path d="M139.6 9.2Q139.8 13.4 143.6 17.4L146 18.6L150 17.6L153.6 9.4Z" fill="url(#gold)" stroke="#c89018" stroke-width="0.5"/>
<path d="M141 10.2Q146 12.4 152.6 10L150.4 13.2Q146 13.8 142.4 12.6Z" fill="#fff4a0" opacity="0.8"/>
<ellipse cx="146.1" cy="7.6" rx="7.9" ry="3" fill="#4e9ad8" stroke="#3474b4" stroke-width="0.6"/>
<path d="M142 6.8Q142.4 2.8 146.4 2.8Q150.2 2.8 150.6 6.8Q146.4 8.8 142 6.8Z" fill="#86c4f0" stroke="#4a8ccc" stroke-width="0.5"/>
<circle cx="150.5" cy="14.8" r="4.1" fill="#d8200e"/>
<circle cx="150.5" cy="14.8" r="4.1" fill="none" stroke="#b41408" stroke-width="0.5"/>
<rect x="149.1" y="13.4" width="2.8" height="2.8" fill="#fff"/>
<g stroke="#585858" stroke-width="1.2" fill="none"><path d="M232.5 6V18.9M230 16.5H242.6"/></g><path d="M232.5 4.6L230.7 7.4H234.3Z" fill="#585858"/><path d="M244.2 16.5L241.4 14.7V18.3Z" fill="#585858"/>
<path d="M238.4 6V14.6M238.4 7.5H241M236 13.4H238.4" stroke="#149014" stroke-width="1.3" fill="none"/>
<g stroke="#585858" stroke-width="1.2" fill="none"><path d="M260.5 6V18.9M258 16.5H270.6"/></g><path d="M260.5 4.6L258.7 7.4H262.3Z" fill="#585858"/><path d="M272.2 16.5L269.4 14.7V18.3Z" fill="#585858"/>
<path d="M266.6 3.2V14.8" stroke="#108410" stroke-width="1.1"/>
<rect x="264.3" y="5.2" width="4.4" height="7.4" fill="#48e448" stroke="#108410" stroke-width="0.9"/>
<g stroke="#585858" stroke-width="1.2" fill="none"><path d="M288.5 6V18.9M286 16.5H298.6"/></g><path d="M288.5 4.6L286.7 7.4H290.3Z" fill="#585858"/><path d="M300.2 16.5L297.4 14.7V18.3Z" fill="#585858"/>
<path d="M287.4 13.6Q290.5 8 293.2 8.3Q295.5 8.8 298.6 12.2" stroke="#209020" stroke-width="1.2" fill="none"/>
<path d="M327.6 12.8L332.4 17.8" stroke="#a07408" stroke-width="3.6" stroke-linecap="butt"/><path d="M327.4 12.6L332.1 17.5" stroke="#ffe248" stroke-width="2" stroke-linecap="butt"/><circle cx="324" cy="9" r="5.5" fill="url(#lens)" stroke="#3a7cc8" stroke-width="1.1"/><path d="M321 9H327" stroke="#3c86bc" stroke-width="1.7"/><path d="M324 6V12" stroke="#3c86bc" stroke-width="1.7"/>
<path d="M355.6 12.8L360.4 17.8" stroke="#a07408" stroke-width="3.6" stroke-linecap="butt"/><path d="M355.4 12.6L360.1 17.5" stroke="#ffe248" stroke-width="2" stroke-linecap="butt"/><circle cx="352" cy="9" r="5.5" fill="url(#lens)" stroke="#3a7cc8" stroke-width="1.1"/><path d="M349 9H355" stroke="#3c86bc" stroke-width="1.7"/>
<rect x="374" y="3" width="7.9" height="7.7" fill="#3ca818"/>
<rect x="374" y="3" width="7.9" height="2" fill="#2c8c0c"/>
<rect x="375.2" y="3.9" width="0.9" height="0.8" fill="#fff" opacity="0.8"/>
<rect x="375.1" y="6" width="5.7" height="3.9" fill="#fff"/>
<rect x="376.1" y="7.2" width="3.7" height="0.9" fill="#a8e090"/>
<rect x="376.1" y="9.2" width="3.7" height="0.8" fill="#3ca818"/>
<rect x="382.3" y="3" width="7.9" height="7.7" fill="#2458d8"/>
<rect x="382.3" y="3" width="7.9" height="2" fill="#1840b0"/>
<rect x="383.5" y="3.9" width="0.9" height="0.8" fill="#fff" opacity="0.8"/>
<rect x="383.40000000000003" y="6" width="5.7" height="3.9" fill="#fff"/>
<rect x="384.40000000000003" y="7.2" width="3.7" height="0.9" fill="#a0b8f0"/>
<rect x="384.40000000000003" y="9.2" width="3.7" height="0.8" fill="#2458d8"/>
<rect x="374" y="11.1" width="7.9" height="7.7" fill="#2458d8"/>
<rect x="374" y="11.1" width="7.9" height="2" fill="#1840b0"/>
<rect x="375.2" y="12.0" width="0.9" height="0.8" fill="#fff" opacity="0.8"/>
<rect x="375.1" y="14.1" width="5.7" height="3.9" fill="#fff"/>
<rect x="376.1" y="15.3" width="3.7" height="0.9" fill="#a0b8f0"/>
<rect x="376.1" y="17.3" width="3.7" height="0.8" fill="#2458d8"/>
<rect x="382.3" y="11.1" width="7.9" height="7.7" fill="#3ca818"/>
<rect x="382.3" y="11.1" width="7.9" height="2" fill="#2c8c0c"/>
<rect x="383.5" y="12.0" width="0.9" height="0.8" fill="#fff" opacity="0.8"/>
<rect x="383.40000000000003" y="14.1" width="5.7" height="3.9" fill="#fff"/>
<rect x="384.40000000000003" y="15.3" width="3.7" height="0.9" fill="#a8e090"/>
<rect x="384.40000000000003" y="17.3" width="3.7" height="0.8" fill="#3ca818"/>
<g stroke="#585858" stroke-width="1.2" fill="none"><path d="M412.5 6V18.9M410 16.5H422.6"/></g><path d="M412.5 4.6L410.7 7.4H414.3Z" fill="#585858"/><path d="M424.2 16.5L421.4 14.7V18.3Z" fill="#585858"/>
<path d="M417.5 7.3L421 10.4L417.5 13.5Z" fill="#90e490" stroke="#18a018" stroke-width="1"/>
<g stroke="#585858" stroke-width="1.2" fill="none"><path d="M440.5 6V18.9M438 16.5H450.6"/></g><path d="M440.5 4.6L438.7 7.4H442.3Z" fill="#585858"/><path d="M452.2 16.5L449.4 14.7V18.3Z" fill="#585858"/>
<path d="M446.5 5V14.8" stroke="#1c6c9c" stroke-width="1.2"/>
<path d="M447.2 10.3L450.4 7.8L449.9 9.7L452.4 10.3L449.9 10.9L450.4 12.8Z" fill="#e04c08"/>
<path d="M472 3.5H478.5L481.5 6.5V15.5H472Z" fill="#fdfdfd" stroke="#8c8c8c" stroke-width="0.9"/>
<path d="M478.5 3.5V6.5H481.5" fill="none" stroke="#8c8c8c" stroke-width="0.8"/>
<path d="M474.5 7V12.5" stroke="#505050" stroke-width="0.8" fill="none"/>
<path d="M479.2 9.2H483V12.6H486.8V16.4H483V20.2H479.2V16.4H475.4V12.6H479.2Z" fill="url(#gplus)" stroke="#109410" stroke-width="0.8"/>
<circle cx="516.9" cy="11.1" r="8" fill="url(#ring)"/>
<circle cx="516.9" cy="11" r="5.7" fill="url(#clock)"/>
<path d="M516.6 7.4V11.2H519.6" stroke="#202020" stroke-width="1.1" fill="none"/>
<path d="M516 14.4H518" stroke="#58a0f0" stroke-width="0.8"/>
<rect x="548.5" y="4.5" width="15.5" height="13" fill="#fdfdfd" stroke="#3c70c4" stroke-width="1"/>
<rect x="548.5" y="4.5" width="15.5" height="2.6" fill="#5c94e0"/>
<path d="M549 12.2H564" stroke="#3c70c4" stroke-width="0.9"/>
<path d="M550.5 10.4H552.4L554 8.8H555.4L556.6 9.8H558.6L560 8.6H562.2" stroke="#a02410" stroke-width="1.1" fill="none"/>
<path d="M551 15.8H552.8L554 14.8L555.8 15.8L557 14.8L558.8 13.6L560.6 14.8L562 15.8" stroke="#108424" stroke-width="1.1" fill="none"/>
<path d="M492.7 9.7H498.3L495.5 13Z" fill="#000"/>
<path d="M531.7 9.7H537.3L534.5 13Z" fill="#000"/>
<path d="M570.7 9.7H576.3L573.5 13Z" fill="#000"/>
<path d="M876.2 9.7H881.8L879 13Z" fill="#000"/>
<path d="M600.2 4.2V16.2L603 13.6L605 18L606.8 17.2L604.8 12.9L608.4 12.6Z" fill="#404040"/>
<path d="M632.5 4V18M625 11.5H640" stroke="#505050" stroke-width="1" shape-rendering="crispEdges"/>
<rect x="631" y="10" width="3" height="3" fill="#f0f0f0"/>
<rect x="632" y="11" width="1" height="1" fill="#505050"/>
<path d="M666.7 5V18" stroke="#505050" stroke-width="1.2"/>
<path d="M689 11.4H701" stroke="#505050" stroke-width="1.2"/>
<path d="M716.6 18L729 6" stroke="#505050" stroke-width="1.2"/>
<g stroke="#505050" stroke-width="1" fill="none"><path d="M743 12.8L756.8 6.6M743.4 17.8L757 10.2"/><path d="M746.9 9L745.3 18M750.1 7.6L748.5 16.4M753.3 6L751.7 14.8M755.7 3.2L754.5 12.6"/></g>
<text x="754.2" y="19.9" font-size="6.4" font-weight="bold" fill="#404040" font-family='"Liberation Sans", "Noto Sans CJK SC", sans-serif'>E</text>
<g stroke="#505050" stroke-width="1" stroke-dasharray="1 1" shape-rendering="crispEdges"><path d="M772 4.5H785M772 7.5H785M772 11.5H785M772 15.5H781"/></g>
<text x="781.6" y="19.9" font-size="6.4" font-weight="bold" fill="#404040" font-family='"Liberation Sans", "Noto Sans CJK SC", sans-serif'>F</text>
<text x="802.7" y="15.8" font-size="11.6" fill="#505050" font-family='"Liberation Sans", "Noto Sans CJK SC", sans-serif' stroke="#505050" stroke-width="0.6">A</text>
<rect x="829.5" y="4.5" width="11" height="13" fill="none" stroke="#505050" stroke-width="1" stroke-dasharray="1 1" shape-rendering="crispEdges"/>
<text x="831.4" y="15.9" font-size="10.6" font-weight="bold" fill="#505050" font-family='"Liberation Sans", "Noto Sans CJK SC", sans-serif'>T</text>
<path d="M859 5.2L862.2 8.4L859 11.6L855.8 8.4Z" fill="#404040"/>
<path d="M866.5 11.4L870 14.8L866.5 18.2L863 14.8Z" fill="#404040"/>
<path d="M858 13.2L860 15.2L864.5 9.4" stroke="#404040" stroke-width="1.3" fill="none"/>
<text transform="translate(903.5 15) rotate(0.03) scale(0.8998 1)" font-size="10" fill="#404040" stroke="#404040" stroke-width="0.2" font-family='"Liberation Sans", "Noto Sans CJK SC", sans-serif'>M1</text>
<text transform="translate(931 15) rotate(0.03) scale(0.9358 1)" font-size="10" fill="#404040" stroke="#404040" stroke-width="0.2" font-family='"Liberation Sans", "Noto Sans CJK SC", sans-serif'>M5</text>
<text transform="translate(957 15) rotate(0.03) scale(0.9510 1)" font-size="10" fill="#404040" stroke="#404040" stroke-width="0.2" font-family='"Liberation Sans", "Noto Sans CJK SC", sans-serif'>M15</text>
<text transform="translate(985.6 15) rotate(0.03) scale(0.9253 1)" font-size="10" fill="#404040" stroke="#404040" stroke-width="0.2" font-family='"Liberation Sans", "Noto Sans CJK SC", sans-serif'>M30</text>
<text transform="translate(1016.6 15) rotate(0.03) scale(0.9074 1)" font-size="10" fill="#404040" stroke="#404040" stroke-width="0.2" font-family='"Liberation Sans", "Noto Sans CJK SC", sans-serif'>H1</text>
<text transform="translate(1043.5 15) rotate(0.03) scale(0.9778 1)" font-size="10" fill="#404040" stroke="#404040" stroke-width="0.2" font-family='"Liberation Sans", "Noto Sans CJK SC", sans-serif'>H4</text>
<text transform="translate(1072.6 15) rotate(0.03) scale(0.9074 1)" font-size="10" fill="#404040" stroke="#404040" stroke-width="0.2" font-family='"Liberation Sans", "Noto Sans CJK SC", sans-serif'>D1</text>
<text transform="translate(1100 15) rotate(0.03) scale(0.9333 1)" font-size="10" fill="#404040" stroke="#404040" stroke-width="0.2" font-family='"Liberation Sans", "Noto Sans CJK SC", sans-serif'>W1</text>
<text transform="translate(1126 15) rotate(0.03) scale(0.9966 1)" font-size="10" fill="#404040" stroke="#404040" stroke-width="0.2" font-family='"Liberation Sans", "Noto Sans CJK SC", sans-serif'>MN</text>
<path d="M1616.6 11.8L1612.2 15.8" stroke="#2858c8" stroke-width="2.2" stroke-linecap="round"/>
<circle cx="1619.7" cy="8.8" r="3.9" fill="#f4f8ff" stroke="#2c5cd0" stroke-width="1.2"/>
<path d="M1637 13Q1637 8.5 1642.5 8.5Q1648 8.5 1648 13Q1648 16.8 1643 17L1639.8 19.4L1640.2 16.6Q1637 15.8 1637 13Z" fill="#e4e6f0" stroke="#b4b4b8" stroke-width="0.8"/>
<circle cx="1650.6" cy="8.3" r="8.1" fill="url(#redb)"/>
<text x="1650.6" y="13" font-size="13" fill="#fff" text-anchor="middle" font-family='"Liberation Sans", "Noto Sans CJK SC", sans-serif'>1</text>
</g></svg>
</body></html>
